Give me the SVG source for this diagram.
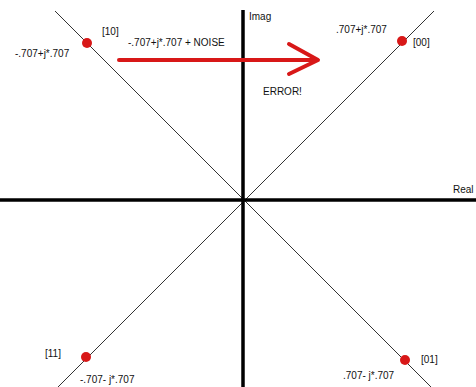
<svg xmlns="http://www.w3.org/2000/svg" width="476" height="387" viewBox="0 0 476 387">
<style>
text{font-family:"Liberation Sans",Arial,sans-serif;font-size:10px;fill:#111}
.axis{stroke:#000;stroke-width:3.5}
.diag{stroke:#333;stroke-width:1}
.pt{fill:#d81818}
.arr{stroke:#d81818;stroke-width:4;fill:none;stroke-linecap:round;stroke-linejoin:round}
</style>
<rect width="476" height="387" fill="#fff"/>
<g id="connectors">
<line class="diag" x1="55" y1="11" x2="432" y2="388"/>
<line class="diag" x1="434" y1="11" x2="57" y2="388"/>
<line class="axis" x1="0" y1="200" x2="476" y2="200"/>
<line class="axis" x1="243" y1="10" x2="243" y2="387"/>
<path class="arr" d="M119 60 H317 M289 44 L318 60 L289 74"/>
</g>
<g id="axis-labels">
<text x="249" y="20">Imag</text>
<text x="453" y="193">Real</text>
</g>
<g id="p10">
<circle class="pt" cx="87" cy="43" r="5"/>
<text x="102" y="35">[10]</text>
<text x="15" y="57">-.707+j*.707</text>
</g>
<g id="p00">
<circle class="pt" cx="402" cy="41" r="5"/>
<text x="413" y="46">[00]</text>
<text x="336" y="33">.707+j*.707</text>
</g>
<g id="p11">
<circle class="pt" cx="86" cy="357" r="5"/>
<text x="45" y="357">[11]</text>
<text x="80" y="383">-.707- j*.707</text>
</g>
<g id="p01">
<circle class="pt" cx="405" cy="360" r="5"/>
<text x="421" y="363">[01]</text>
<text x="343" y="379">.707- j*.707</text>
</g>
<g id="noise-label">
<text x="128" y="46">-.707+j*.707 + NOISE</text>
<text x="263" y="95">ERROR!</text>
</g>
</svg>
